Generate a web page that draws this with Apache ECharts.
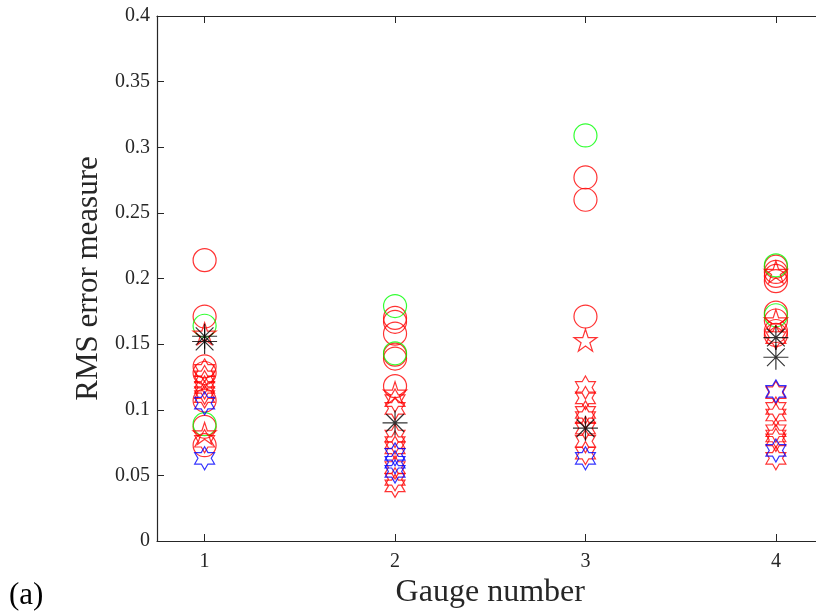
<!DOCTYPE html>
<html>
<head>
<meta charset="utf-8">
<script src="https://cdn.jsdelivr.net/npm/echarts@6/dist/echarts.min.js"></script>
<style>
  html, body { margin: 0; padding: 0; background: #fff; }
  #chart { width: 816px; height: 612px; }
</style>
</head>
<body>
<div id="chart"></div>
<script>
// Gauge positions along the x axis and their tick labels
const gauges = [1, 2, 3, 4];
const xTickLabels = ['1', '2', '3', '4'];

// RMS error values per gauge (one inner list per gauge), grouped by marker
const redCircles = [
  [0.214, 0.171, 0.133, 0.128, 0.107, 0.087, 0.073],
  [0.170, 0.167, 0.158, 0.142, 0.139, 0.118],
  [0.277, 0.260, 0.171],
  [0.209, 0.205, 0.202, 0.198, 0.174, 0.168, 0.160, 0.157]
];
const greenCircles = [
  [0.164, 0.089],
  [0.179, 0.143],
  [0.309],
  [0.210, 0.172]
];
const redPentagrams = [
  [0.158, 0.082],
  [0.113],
  [0.153],
  [0.205, 0.168]
];
const redHexagrams = [
  [0.130, 0.125, 0.121, 0.117, 0.113, 0.110, 0.076],
  [0.107, 0.101, 0.080, 0.075, 0.071, 0.056, 0.047, 0.042],
  [0.117, 0.109, 0.098, 0.094, 0.086, 0.076, 0.067],
  [0.155, 0.113, 0.101, 0.096, 0.084, 0.080, 0.077, 0.063]
];
const blueHexagrams = [
  [0.105, 0.063],
  [0.066, 0.060, 0.053],
  [0.063],
  [0.114, 0.069]
];
const blackAsterisks = [
  [0.156, 0.152],
  [0.090],
  [0.086],
  [0.155, 0.140]
];

// Outline star path with n points
function starPath(n, inner) {
  const pts = [];
  for (let k = 0; k < 2 * n; k++) {
    const r = k % 2 === 0 ? 50 : 50 * inner;
    const a = -Math.PI / 2 + k * Math.PI / n;
    pts.push((50 + r * Math.cos(a)).toFixed(2) + ' ' + (50 + r * Math.sin(a)).toFixed(2));
  }
  return 'path://M' + pts.join(' L') + ' Z';
}
const pentagram = starPath(5, 0.382);
const hexagram = starPath(6, 0.577);
const asterisk = 'path://M0 50 L100 50 M50 0 L50 100 M14.6 14.6 L85.4 85.4 M85.4 14.6 L14.6 85.4';

function pairs(groups) {
  return gauges.flatMap((g, i) => groups[i].map(v => [g, v]));
}

function markerSeries(name, groups, symbol, size, color) {
  return {
    name: name,
    type: 'scatter',
    data: pairs(groups),
    symbol: symbol,
    symbolSize: size,
    symbolKeepAspect: true,
    itemStyle: { color: 'rgba(0,0,0,0)', borderColor: color, borderWidth: 1.2 },
    emphasis: { disabled: true },
    silent: true
  };
}

const axisColor = '#262626';
const serif = '"Liberation Serif", "DejaVu Serif", serif';

const chart = echarts.init(document.getElementById('chart'), null, { renderer: 'canvas' });
chart.setOption({
  animation: false,
  backgroundColor: '#ffffff',
  grid: { left: 157, top: 16, right: -7.5, bottom: 71, containLabel: false, outerBoundsMode: 'none' },
  xAxis: [
    {
      type: 'value', min: 0.75, max: 4.25, position: 'bottom',
      name: 'Gauge number', nameLocation: 'middle', nameGap: 32,
      nameTextStyle: { fontFamily: serif, fontSize: 32, color: axisColor },
      axisLine: { show: true, onZero: false, lineStyle: { color: axisColor, width: 1.2 } },
      axisTick: { show: true, inside: true, length: 7, customValues: gauges, lineStyle: { color: axisColor } },
      axisLabel: { show: true, customValues: gauges, margin: 11, fontFamily: serif, fontSize: 20, color: axisColor,
        formatter: v => xTickLabels[gauges.indexOf(v)] },
      splitLine: { show: false }
    },
    {
      type: 'value', min: 0.75, max: 4.25, position: 'top',
      axisLine: { show: true, onZero: false, lineStyle: { color: axisColor, width: 1.2 } },
      axisTick: { show: true, inside: true, length: 7, customValues: gauges, lineStyle: { color: axisColor } },
      axisLabel: { show: false },
      splitLine: { show: false }
    }
  ],
  yAxis: [
    {
      type: 'value', min: 0, max: 0.4, interval: 0.05, position: 'left',
      name: 'RMS error measure', nameLocation: 'middle', nameGap: 50,
      nameTextStyle: { fontFamily: serif, fontSize: 31, color: axisColor },
      axisLine: { show: true, onZero: false, lineStyle: { color: axisColor, width: 1.2 } },
      axisTick: { show: true, inside: true, length: 7, lineStyle: { color: axisColor } },
      axisLabel: { show: true, margin: 7, fontFamily: serif, fontSize: 20, color: axisColor,
        formatter: v => String(+v.toFixed(2)) },
      splitLine: { show: false }
    },
    {
      type: 'value', min: 0, max: 0.4, interval: 0.05, position: 'right',
      axisLine: { show: true, onZero: false, lineStyle: { color: axisColor, width: 1.2 } },
      axisTick: { show: true, inside: true, length: 7, lineStyle: { color: axisColor } },
      axisLabel: { show: false },
      splitLine: { show: false }
    }
  ],
  graphic: [
    { type: 'text', left: 9, top: 580, style: { text: '(a)', font: '31px ' + serif, fill: '#000' } }
  ],
  series: [
    markerSeries('red circles', redCircles, 'circle', 23, '#ff0000'),
    markerSeries('green circles', greenCircles, 'circle', 23, '#00ff00'),
    markerSeries('red pentagrams', redPentagrams, pentagram, 23, '#ff0000'),
    markerSeries('red hexagrams', redHexagrams, hexagram, 23, '#ff0000'),
    markerSeries('blue hexagrams', blueHexagrams, hexagram, 23, '#0000ff'),
    markerSeries('black asterisks', blackAsterisks, asterisk, 25, '#000000')
  ]
});
</script>
</body>
</html>
